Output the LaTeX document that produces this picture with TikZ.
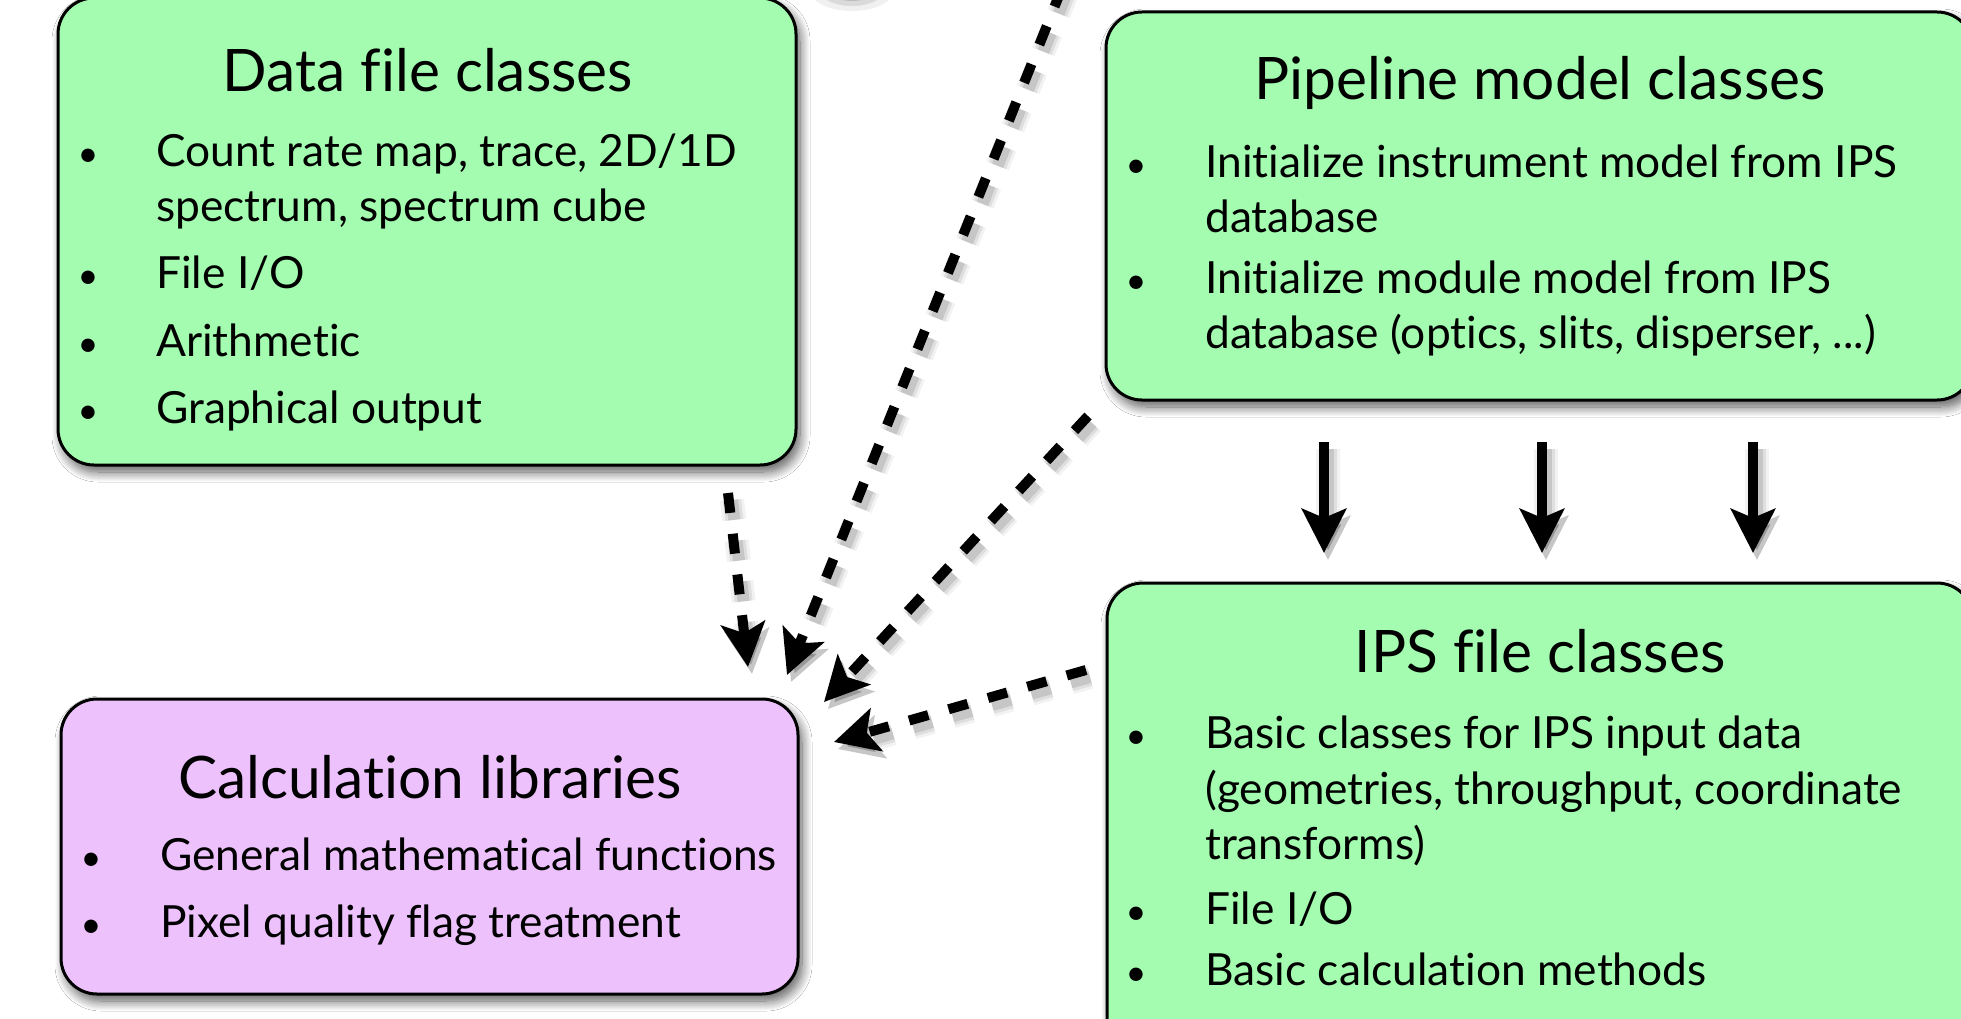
\documentclass[tikz,border=0pt]{standalone}
\usepackage{fontspec}
\setmainfont[Ligatures=NoCommon]{Lato}
\usetikzlibrary{arrows.meta,shadows.blur}
\definecolor{boxgreen}{RGB}{163,252,176}
\definecolor{boxpurple}{RGB}{237,193,252}
\tikzset{
 cbox/.style={rectangle, draw=black, line width=3pt, rounded corners=36pt, inner sep=0pt,
   blur shadow={shadow xshift=4pt, shadow yshift=-7pt, shadow blur radius=10pt, shadow blur steps=12, shadow opacity=65}},
 ttl/.style={anchor=base, inner sep=0pt, font=\fontsize{58.6}{62}\selectfont},
 btxt/.style={anchor=base west, inner sep=0pt, font=\fontsize{44.3}{50}\selectfont},
 bdot/.style={anchor=base, inner sep=0pt, font=\fontsize{36}{40}\selectfont},
 deparrow/.style={line width=10pt, dash pattern=on 20pt off 21pt, -{Stealth[length=44pt,width=44pt,inset=10pt]}},
 flowarrow/.style={line width=10pt, -{Stealth[length=44pt,width=44pt,inset=9pt]}},
}
\newcommand\shadedarrow[3]{%
  \foreach \w/\o in {24/0.05,18/0.08,12/0.11}{%
    \draw[#1, line width=\w pt, opacity=\o, transform canvas={xshift=4pt,yshift=-7pt}] (#2) -- (#3);}
  \draw[#1] (#2) -- (#3);}
\begin{document}
\begin{tikzpicture}[x=1pt,y=-1pt]
\useasboundingbox (0,0) rectangle (1961,1019);
\fill[white] (0,0) rectangle (1961,1019);
\clip (0,0) rectangle (1961,1019);

% shadow of an element just above the frame
\foreach \r/\o in {42/0.06,32/0.09,22/0.13,14/0.16}{\fill[black,opacity=\o] (852,-10) ellipse ({\r pt} and {\r*0.5 pt});}

% boxes
\node[cbox, fill=boxgreen, minimum width=738pt, minimum height=467pt] (data) at (427,231.5) {};
\node[cbox, fill=boxgreen, minimum width=867pt, minimum height=388pt] (pipe) at (1539.5,206) {};
\node[cbox, fill=boxgreen, minimum width=866pt, minimum height=477pt] (ips) at (1540,821.5) {};
\node[cbox, fill=boxpurple, minimum width=737pt, minimum height=295pt] (calc) at (429.5,846.5) {};

% Data file classes
\node[ttl] (dt) at (428,92) {Data file classes};
\node[bdot] (db1) at (88,167) {\textbullet};
\node[btxt] (d1) at (156,167) {Count rate map, trace, 2D/1D};
\node[btxt] (d1b) at (156,222) {spectrum, spectrum cube};
\node[bdot] (db2) at (88,288) {\textbullet};
\node[btxt] (d2) at (156,288) {File I/O};
\node[bdot] (db3) at (88,356) {\textbullet};
\node[btxt] (d3) at (156,356) {Arithmetic};
\node[bdot] (db4) at (88,423) {\textbullet};
\node[btxt] (d4) at (156,423) {Graphical output};

% Pipeline model classes
\node[ttl] (pt) at (1540,100) {Pipeline model classes};
\node[bdot] (pb1) at (1136,178) {\textbullet};
\node[btxt] (p1) at (1205,178) {Initialize instrument model from IPS};
\node[btxt] (p1b) at (1205,233) {database};
\node[bdot] (pb2) at (1136,293) {\textbullet};
\node[btxt] (p2) at (1205,293) {Initialize module model from IPS};
\node[btxt] (p2b) at (1205,348) {database (optics, slits, disperser, ...)};

% IPS file classes
\node[ttl] (it) at (1540,672) {IPS file classes};
\node[bdot] (ib1) at (1136,748) {\textbullet};
\node[btxt] (i1) at (1205,748) {Basic classes for IPS input data};
\node[btxt] (i1b) at (1205,804) {(geometries, throughput, coordinate};
\node[btxt] (i1c) at (1205,859) {transforms)};
\node[bdot] (ib2) at (1136,924) {\textbullet};
\node[btxt] (i2) at (1205,924) {File I/O};
\node[bdot] (ib3) at (1136,985) {\textbullet};
\node[btxt] (i3) at (1205,985) {Basic calculation methods};

% Calculation libraries
\node[ttl] (ct) at (430,798) {Calculation libraries};
\node[bdot] (cb1) at (91,870) {\textbullet};
\node[btxt] (c1) at (160,870) {General mathematical functions};
\node[bdot] (cb2) at (91,937) {\textbullet};
\node[btxt] (c2) at (160,937) {Pixel quality flag treatment};

% connector end points
\coordinate (a1s) at (728,493);  \coordinate (a1e) at (748,667);
\coordinate (a2s) at (1062,-12); \coordinate (a2e) at (787,675);
\coordinate (a3s) at (1088,416); \coordinate (a3e) at (824,702);
\coordinate (a4s) at (1086,670); \coordinate (a4e) at (834,742);
\coordinate (f1s) at (1324,442); \coordinate (f1e) at (1324,553);
\coordinate (f2s) at (1542,442); \coordinate (f2e) at (1542,553);
\coordinate (f3s) at (1753,442); \coordinate (f3e) at (1753,553);

\shadedarrow{deparrow}{a1s}{a1e}
\shadedarrow{deparrow}{a2s}{a2e}
\shadedarrow{deparrow}{a3s}{a3e}
\shadedarrow{deparrow}{a4s}{a4e}
\shadedarrow{flowarrow}{f1s}{f1e}
\shadedarrow{flowarrow}{f2s}{f2e}
\shadedarrow{flowarrow}{f3s}{f3e}
\end{tikzpicture}
\end{document}
